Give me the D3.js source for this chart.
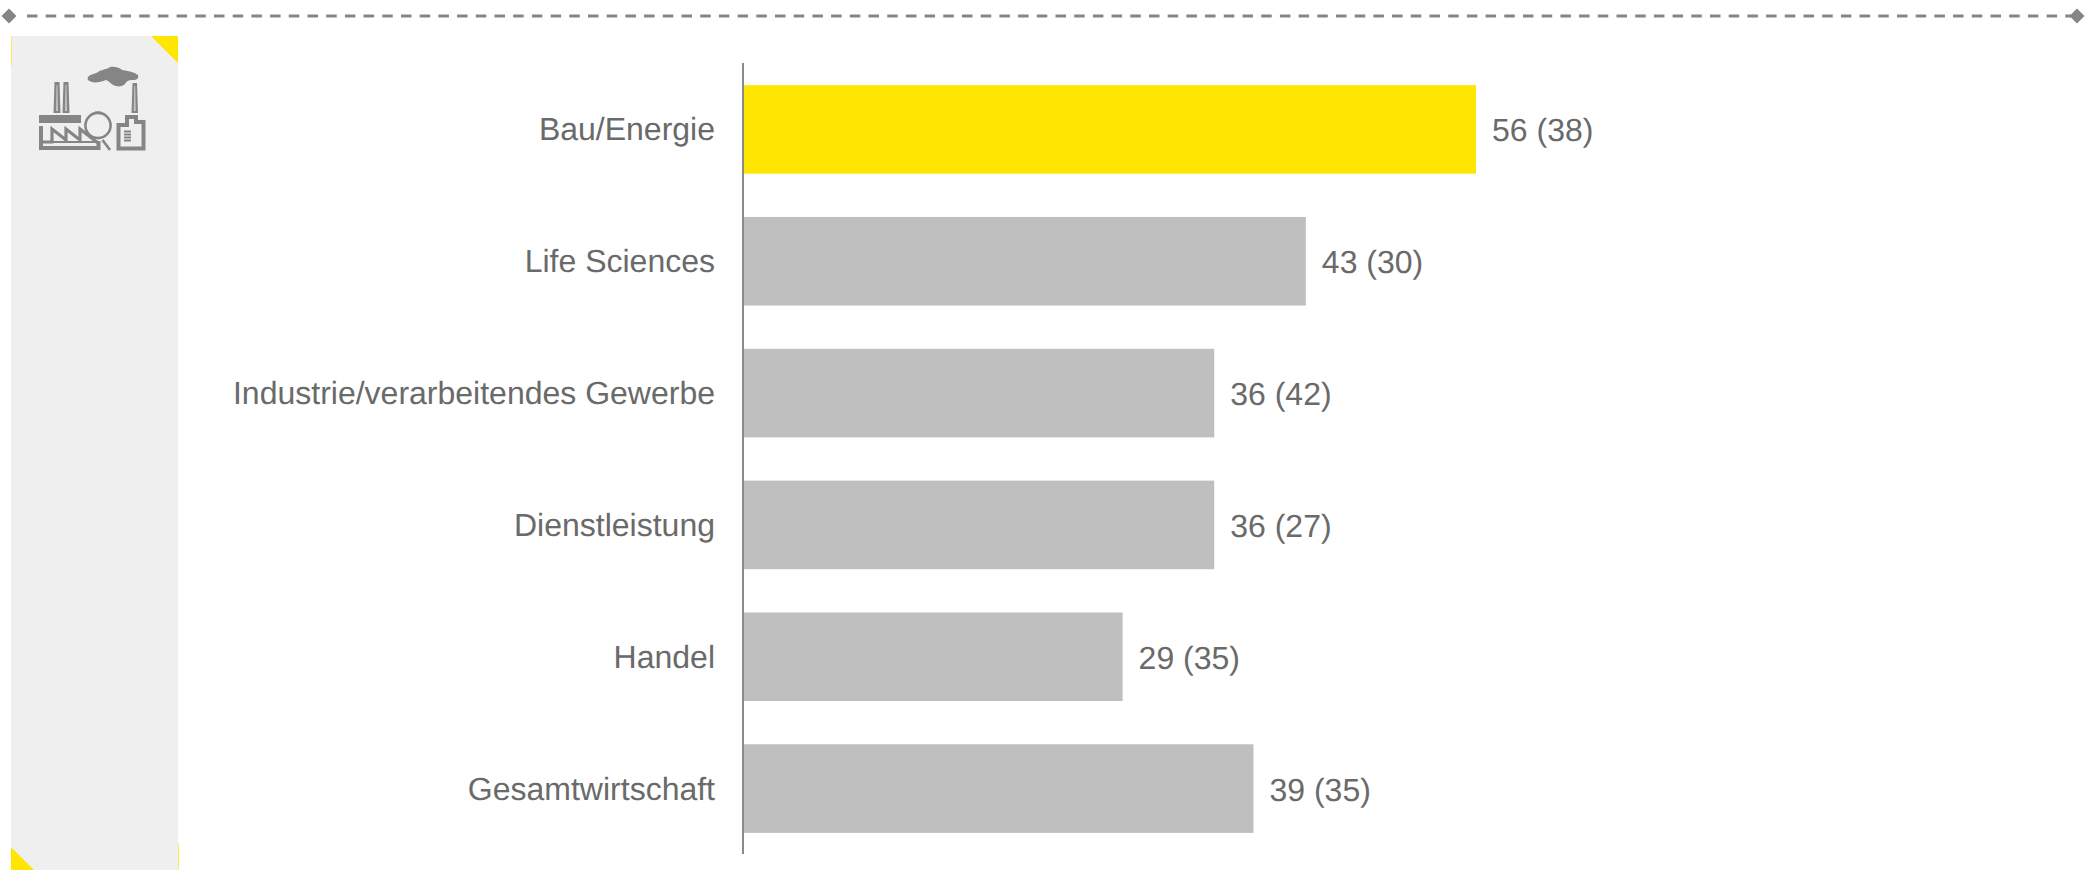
<!DOCTYPE html>
<html><head><meta charset="utf-8">
<script src="https://cdn.jsdelivr.net/npm/d3@7/dist/d3.min.js"></script>
<style>html,body{margin:0;background:#fff}svg{display:block}text{font-family:"Liberation Sans",Arial,sans-serif;fill:#6a6a6a;font-size:32px;text-rendering:geometricPrecision}</style>
</head><body><svg id="c" width="2098" height="870"></svg>
<script>
const categories = ["Bau/Energie","Life Sciences","Industrie/verarbeitendes Gewerbe","Dienstleistung","Handel","Gesamtwirtschaft"];
const currentValues = [56,43,36,36,29,39];
const previousValues = [38,30,42,27,35,35];
const highlighted = ["Bau/Energie"];

const svg = d3.select("#c");
const grey = "#858585";

// Dashed rule with diamond ends
svg.append("line").attr("x1",27).attr("x2",2075).attr("y1",16).attr("y2",16)
  .attr("stroke",grey).attr("stroke-width",3).attr("stroke-dasharray","10.5 8.2");
[9,2077].forEach(x=>svg.append("path").attr("d",`M${x-7.5} 16L${x} 8.5L${x+7.5} 16L${x} 23.5Z`).attr("fill",grey));

// Side panel and its yellow corners
svg.append("rect").attr("x",11).attr("y",36).attr("width",167).attr("height",834).attr("fill","#efefef");
const yellow="#ffe600";
svg.append("path").attr("d","M151 36H178V63Z").attr("fill",yellow);
svg.append("path").attr("d","M11 847L34 870H11Z").attr("fill",yellow);
svg.append("rect").attr("x",11).attr("y",36).attr("width",1).attr("height",30).attr("fill",yellow).attr("opacity",.6);
svg.append("rect").attr("x",178).attr("y",843).attr("width",1).attr("height",27).attr("fill",yellow).attr("opacity",.7);

// Factory pictogram
const icon = svg.append("g").attr("fill",grey);
icon.append("path").attr("d","M88 77C90 74 95 74 98 72C102 69 106 70 110 67C115 66 120 68 122 70C128 71 134 72 138 75C139 78 137 80 133 80C128 80 127 81 125 84C122 87 117 87 113 85C110 83 109 81 106 80C101 82 96 83 92 82C88 81 87 79 88 77Z");
// Chimneys: tapered stacks with a lighter core
[[53.5,60.5,82,113],[62.5,69.5,82,113],[131.5,138,83,113]].forEach(([a,b,t,u])=>{
  icon.append("path").attr("d",`M${a+1} ${t}H${b-1}L${b} ${u}H${a}Z`);
  icon.append("path").attr("d",`M${(a+b)/2-.5} ${t+3}H${(a+b)/2+.5}L${(a+b)/2+1} ${u-2}H${(a+b)/2-1}Z`).attr("fill","#c4c4c4");
});
icon.append("rect").attr("x",39).attr("y",115).attr("width",42).attr("height",8);
const outline = (d,w)=>icon.append("path").attr("d",d).attr("fill","none").attr("stroke",grey).attr("stroke-width",w);
outline("M41 126V148H98.5V141",4);
outline("M43 142H52V129L66 140V129L80 140V129L98 143",3.2);
outline("M52 142H95",2);
icon.append("circle").attr("cx",98).attr("cy",125.5).attr("r",12.6).attr("fill","none").attr("stroke",grey).attr("stroke-width",2.6);
icon.append("path").attr("d","M95 114V111.5H101V114Z");
outline("M102.5 140L110 150",2.6);
outline("M118.5 125H127V117H136V122H143.5V148.5H118.5Z",4);
outline("M124 131.5H131M124 134.5H131M124 137.5H131M124 140.5H131",1.8);

// Bars
const x = d3.scaleLinear().domain([0,56]).range([743,1476]);
const y = d3.scaleBand().domain(categories).range([63.5,854.5]).paddingInner(0.328).paddingOuter(0.164);
const rows = categories.map((c,i)=>({c,v:currentValues[i],p:previousValues[i]}));
svg.append("g").selectAll("rect").data(rows).join("rect")
  .attr("x",x(0)).attr("y",d=>y(d.c)).attr("width",d=>x(d.v)-x(0)).attr("height",y.bandwidth())
  .attr("fill",d=>highlighted.includes(d.c)?yellow:"#bfbfbf");

// Category axis: vertical rule with labels to its left
const axis = d3.axisLeft(y).tickSize(0).tickPadding(28);
const ag = svg.append("g").attr("transform",`translate(${x(0)},0)`).call(axis);
ag.select(".domain").attr("stroke","#8a8a8a").attr("stroke-width",2).attr("d","M0 63V854");
ag.selectAll("text").attr("dy",null).attr("y",11).style("font-size","32px").style("font-family",'"Liberation Sans"');

// Value labels with the prior-year figure in brackets
svg.append("g").selectAll("text").data(rows).join("text")
  .attr("x",d=>x(d.v)+16).attr("y",d=>y(d.c)+y.bandwidth()/2+12)
  .text(d=>`${d.v} (${d.p})`);
</script></body></html>
